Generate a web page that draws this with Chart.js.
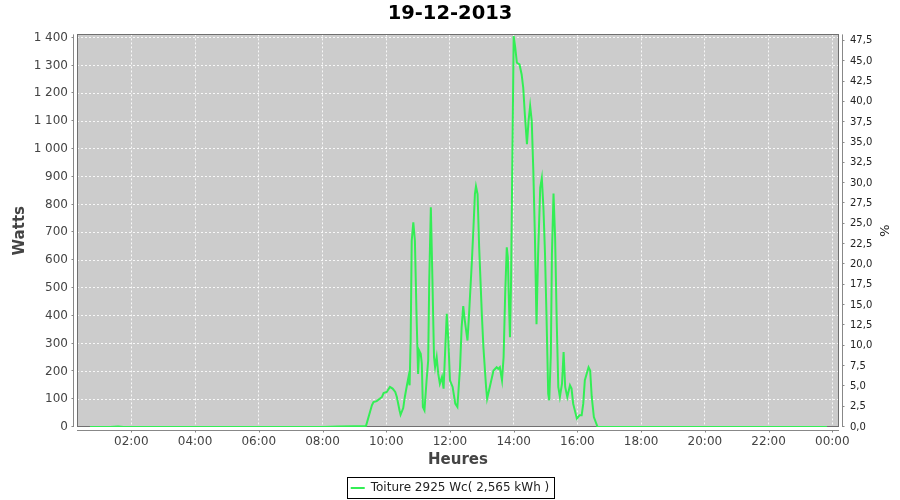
<!DOCTYPE html>
<html lang="fr">
<head>
    <meta charset="UTF-8">
    <title>19-12-2013</title>
    <script src="https://cdn.jsdelivr.net/npm/chart.js"></script>
<style>
  html, body { margin: 0; padding: 0; background: #fff; }
</style>
</head>
<body>
    <canvas id="chart1" width="900" height="500"></canvas>
<script>

// production of the roof, one reading per time (HH:MM)
var times = [
  '00:42', '01:00', '01:20', '01:35', '01:45', '02:00', '03:00', '04:00', '05:00',
  '06:00', '07:00', '08:00', '08:30', '09:00', '09:15', '09:22',
  '09:33', '09:36', '09:42', '09:52', '09:55', '10:01', '10:07', '10:12', '10:17',
  '10:20', '10:25', '10:27', '10:32', '10:35', '10:39', '10:42', '10:44', '10:46',
  '10:48', '10:51', '10:54', '10:57', '11:00', '11:02', '11:05', '11:07', '11:09',
  '11:12', '11:16', '11:19', '11:21', '11:24', '11:27', '11:30', '11:32', '11:35',
  '11:38', '11:41', '11:45', '11:48', '11:51', '11:54', '11:57', '12:00', '12:05',
  '12:10', '12:14', '12:19', '12:22', '12:25', '12:28', '12:33', '12:36', '12:41',
  '12:44', '12:47', '12:49', '12:52', '12:55', '13:00', '13:03', '13:08', '13:10',
  '13:15', '13:22', '13:28', '13:31', '13:34', '13:38', '13:41', '13:44', '13:47',
  '13:49', '13:51', '13:53', '13:55', '13:57', '14:00', '14:03', '14:06', '14:11',
  '14:15', '14:18', '14:21', '14:25', '14:28', '14:31', '14:34', '14:37', '14:40',
  '14:43', '14:46', '14:50', '14:53', '14:56', '14:59', '15:02', '15:05', '15:07',
  '15:10', '15:12', '15:15', '15:18', '15:21', '15:24', '15:27', '15:31', '15:34',
  '15:37', '15:41', '15:46', '15:49', '15:52', '15:59', '16:04', '16:08', '16:11',
  '16:14', '16:21', '16:24', '16:27', '16:31', '16:38', '17:00', '18:00', '19:00',
  '20:00', '21:00', '22:00', '23:00', '23:50'
];
var watts = [
  0, 0, 0, 2, 0, 0, 0, 0, 0,
  0, 0, 0, 2, 3, 3, 4,
  78, 90, 93, 108, 122, 126, 144, 138, 126,
  108, 60, 44, 68, 108, 150, 180, 150, 311,
  670, 736, 670, 407, 191, 275, 263, 228, 72,
  60, 168, 239, 527, 790, 527, 251, 215, 251,
  191, 156, 180, 138, 275, 407, 311, 168, 144,
  84, 72, 215, 359, 435, 383, 311, 407, 586,
  706, 838, 866, 838, 646, 407, 287, 144, 102,
  144, 203, 215, 209, 215, 168, 251, 479, 646,
  610, 455, 323, 515, 874, 1406, 1364, 1310, 1304,
  1268, 1220, 1125, 1017, 1101, 1155, 1101, 921, 682,
  370, 622, 861, 895, 790, 622, 383, 120, 96,
  263, 622, 840, 682, 383, 144, 108, 156, 270,
  144, 108, 150, 138, 84, 30, 42, 42, 84,
  168, 215, 203, 108, 36, 0, 0, 0, 0,
  0, 0, 0, 0, 0
];

var seriesLabel = 'Toiture 2925 Wc( 2,565 kWh )';
var peakPower = 2925;          // Wc, right axis = % of it
var hourTicks = [2, 4, 6, 8, 10, 12, 14, 16, 18, 20, 22, 24];
var wattTicks = [0, 100, 200, 300, 400, 500, 600, 700, 800, 900, 1000, 1100, 1200, 1300, 1400];

function toHours(t) {
  var p = t.split(':');
  return parseInt(p[0], 10) + parseInt(p[1], 10) / 60;
}

var points = times.map(function (t, i) {
  return { x: toHours(t), y: watts[i] };
});

Chart.defaults.font.family = '"DejaVu Sans", sans-serif';

// grey plot background, outline, offset axis lines and legend frame
var plotFrame = {
  id: 'plotFrame',
  beforeDraw: function (chart) {
    var a = chart.chartArea, ctx = chart.ctx;
    ctx.save();
    ctx.fillStyle = '#cccccc';
    ctx.fillRect(a.left, a.top, a.right - a.left, a.bottom - a.top);
    ctx.restore();
  },
  beforeDatasetsDraw: function (chart) {
    var a = chart.chartArea, ctx = chart.ctx;
    ctx.save();
    ctx.lineWidth = 1;
    ctx.strokeStyle = '#707070';
    ctx.strokeRect(Math.round(a.left) + 0.5, Math.round(a.top) + 0.5,
                   Math.round(a.right - a.left) - 1, Math.round(a.bottom - a.top) - 1);
    ctx.restore();
  },
  afterDraw: function (chart) {
    var a = chart.chartArea, ctx = chart.ctx;
    var sy = chart.scales.y, sy1 = chart.scales.y1, sx = chart.scales.x;
    ctx.save();
    ctx.lineWidth = 1;
    ctx.strokeStyle = '#888888';
    ctx.beginPath();
    var xl = Math.round(a.left) - 3.5;
    ctx.moveTo(xl, a.top); ctx.lineTo(xl, a.bottom);
    sy.ticks.forEach(function (t) {
      var p = Math.round(sy.getPixelForValue(t.value)) - 0.5;
      ctx.moveTo(xl - 2, p); ctx.lineTo(xl, p);
    });
    var xr = Math.round(a.right) + 3.5;
    ctx.moveTo(xr, a.top); ctx.lineTo(xr, a.bottom);
    sy1.ticks.forEach(function (t) {
      var p = Math.round(sy1.getPixelForValue(t.value)) - 0.5;
      ctx.moveTo(xr, p); ctx.lineTo(xr + 2, p);
    });
    var yb = Math.round(a.bottom) + 3.5;
    ctx.moveTo(a.left, yb); ctx.lineTo(a.right, yb);
    sx.ticks.forEach(function (t) {
      var p = Math.round(sx.getPixelForValue(t.value)) + 0.5;
      ctx.moveTo(p, yb); ctx.lineTo(p, yb + 2);
    });
    ctx.stroke();

    var hb = chart.legend.legendHitBoxes[0];
    if (hb) {
      ctx.strokeStyle = '#000000';
      ctx.strokeRect(Math.round(hb.left) - 3.5, Math.round(hb.top) - 4.5,
                     Math.round(hb.width) + 8, hb.height + 9);
    }
    ctx.restore();
  }
};

var ctx = document.getElementById('chart1').getContext('2d');
var myChart = new Chart(ctx, {
  type: 'line',
  data: {
    datasets: [{
      label: seriesLabel,
      data: points,
      borderColor: '#33ee55',
      backgroundColor: '#33ee55',
      borderWidth: 2,
      pointRadius: 0,
      tension: 0,
      yAxisID: 'y'
    }]
  },
  options: {
    responsive: false,
    animation: false,
    layout: { padding: { top: 0, left: 0, right: 0, bottom: -4 } },
    plugins: {
      title: {
        display: true,
        text: '19-12-2013',
        color: '#000',
        font: { size: 19.5, weight: 'bold' },
        padding: { top: 2, bottom: 9 }
      },
      legend: {
        position: 'bottom',
        labels: {
          usePointStyle: true,
          pointStyle: 'line',
          pointStyleWidth: 14,
          padding: 4,
          color: '#222',
          font: { size: 12 }
        }
      },
      tooltip: { enabled: false }
    },
    scales: {
      x: {
        type: 'linear',
        min: 0.295,
        max: 24.21,
        afterFit: function (s) { s.height = 51; },
        afterBuildTicks: function (s) {
          s.ticks = hourTicks.map(function (v) { return { value: v }; });
        },
        ticks: {
          padding: 8,
          color: '#444',
          font: { size: 12 },
          maxRotation: 0,
          autoSkip: false,
          callback: function (v) {
            var h = v % 24;
            return (h < 10 ? '0' : '') + h + ':00';
          }
        },
        grid: { color: 'rgba(255,255,255,0.85)', drawTicks: false },
        border: { display: false, dash: [2, 2] },
        title: {
          display: true,
          text: 'Heures',
          color: '#444',
          font: { size: 15, weight: 'bold' },
          padding: { top: 0, bottom: 9 }
        }
      },
      y: {
        position: 'left',
        min: 0,
        max: 1412,
        afterFit: function (s) { s.width = 77; },
        afterBuildTicks: function (s) {
          s.ticks = wattTicks.map(function (v) { return { value: v }; });
        },
        ticks: {
          padding: 9,
          color: '#444',
          font: { size: 12 },
          autoSkip: false,
          callback: function (v) {
            return String(v).replace(/\B(?=(\d{3})+(?!\d))/g, ' ');
          }
        },
        grid: { color: 'rgba(255,255,255,0.85)', drawTicks: false },
        border: { display: false, dash: [2, 2] },
        title: {
          display: true,
          text: 'Watts',
          color: '#444',
          font: { size: 15, weight: 'bold' },
          padding: { top: 11, bottom: 0 }
        }
      },
      y1: {
        position: 'right',
        display: true,
        min: 0,
        max: 48.3,
        afterFit: function (s) { s.width = 61; },
        ticks: {
          stepSize: 2.5,
          includeBounds: false,
          autoSkip: false,
          padding: 11,
          color: '#222',
          font: { size: 10 },
          callback: function (v) {
            return v.toFixed(1).replace('.', ',');
          }
        },
        grid: { display: false, drawTicks: false },
        border: { display: false },
        title: {
          display: true,
          text: '%',
          color: '#222',
          font: { size: 13 },
          padding: { top: 9, bottom: 0 }
        }
      }
    }
  },
  plugins: [plotFrame]
});

</script>
</body>
</html>
